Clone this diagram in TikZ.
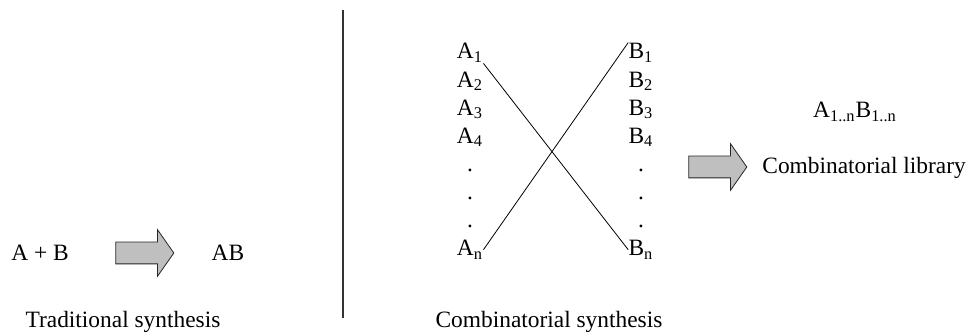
\documentclass[tikz,border=0pt]{standalone}
\usepackage{fontspec}
\setmainfont{Liberation Serif}
\usetikzlibrary{positioning,shapes.arrows}

\begin{document}
\begin{tikzpicture}[
    x=0.5pt, y=-0.5pt,
    node distance = 3.65pt and 1cm,
    every node/.style = {font=\fontsize{11.7}{14}\selectfont},
    textbox/.style = {
        inner sep=0pt
    },
    entry/.style = {
        inner sep=0pt,
        text height=8pt,
        text depth=2pt
    },
    bigarrow/.style = {
        single arrow,
        draw=black!85,
        fill=black!25,
        thin,
        inner sep=5.25pt,
        minimum height=29pt,
        single arrow head extend=6.25pt,
        single arrow tip angle=110
    },
    link/.style = {
        draw=black,
        thin
    }
]

\useasboundingbox (0,0) rectangle (976,335);

% traditional synthesis
\node (ab) [textbox] at (40,253) {A + B};
\node (arrL) [bigarrow] at (141,253) {};
\node (prod) [textbox] at (228,253) {AB};
\node (trad) [textbox] at (123,322) {Traditional synthesis};

% divider
\coordinate (divtop) at (343,10);
\coordinate (divbot) at (343,318);
\draw [line width=0.7pt, black!80] (divtop) -- (divbot);

% combinatorial synthesis
\node (a1) [entry] at (470,53) {A\textsubscript{1}};
\node (a2) [entry, below=of a1] {A\textsubscript{2}};
\node (a3) [entry, below=of a2] {A\textsubscript{3}};
\node (a4) [entry, below=of a3] {A\textsubscript{4}};
\node (ad1) [entry, below=of a4] {.};
\node (ad2) [entry, below=of ad1] {.};
\node (ad3) [entry, below=of ad2] {.};
\node (an) [entry, below=of ad3] {A\textsubscript{n}};

\node (b1) [entry] at (641,53) {B\textsubscript{1}};
\node (b2) [entry, below=of b1] {B\textsubscript{2}};
\node (b3) [entry, below=of b2] {B\textsubscript{3}};
\node (b4) [entry, below=of b3] {B\textsubscript{4}};
\node (bd1) [entry, below=of b4] {.};
\node (bd2) [entry, below=of bd1] {.};
\node (bd3) [entry, below=of bd2] {.};
\node (bn) [entry, below=of bd3] {B\textsubscript{n}};

\draw [link] (a1.south east) -- (bn.west);
\draw [link] (an.east) -- (b1.north west);

\node (comb) [textbox] at (549,322) {Combinatorial synthesis};

% library
\node (arrR) [bigarrow] at (714,167) {};
\node (lib) [textbox] at (855,112) {A\textsubscript{1..n}B\textsubscript{1..n}};
\node (libtxt) [textbox, anchor=west] at (762,168) {Combinatorial library};

\end{tikzpicture}
\end{document}
